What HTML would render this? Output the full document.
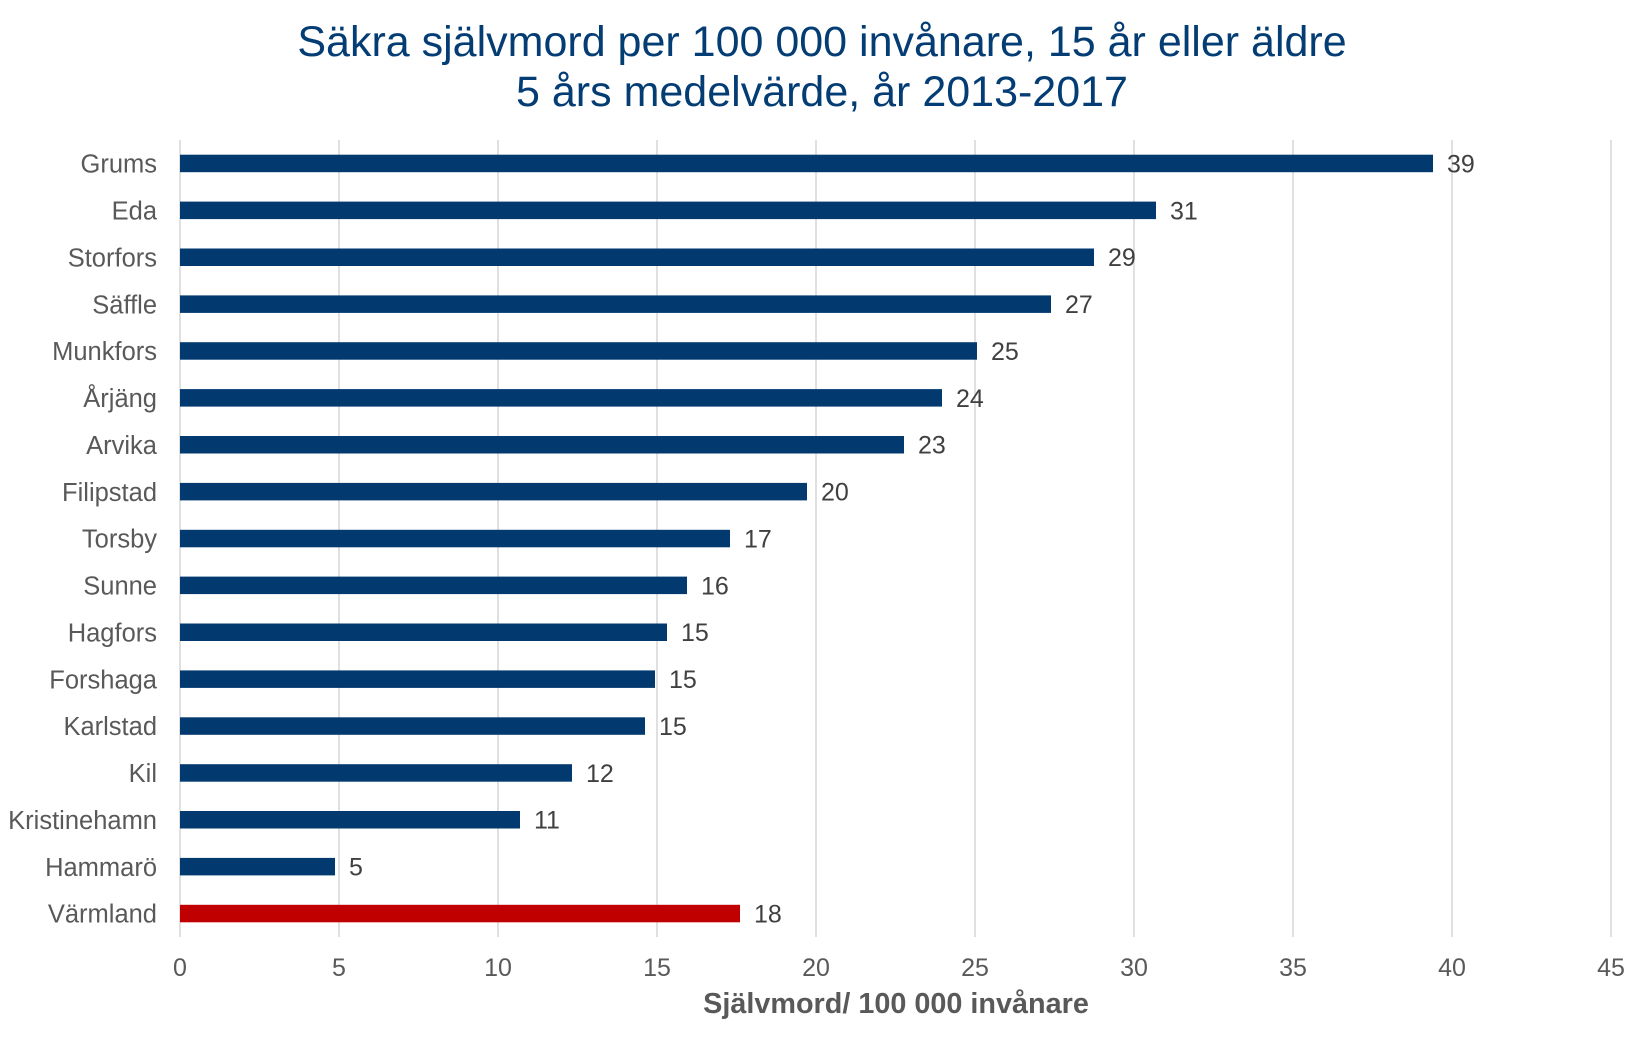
<!DOCTYPE html>
<html>
<head>
<meta charset="utf-8">
<style>
  html, body { margin:0; padding:0; background:#ffffff; }
  svg { display:block; }
  text { font-family: "Liberation Sans", Arial, sans-serif; }
</style>
</head>
<body>
<svg width="1645" height="1062" viewBox="0 0 1645 1062" xmlns="http://www.w3.org/2000/svg">
  <rect x="0" y="0" width="1645" height="1062" fill="#ffffff"/>

  <!-- Title -->
  <text x="822" y="56" text-anchor="middle" font-size="43" fill="#043D74">Säkra självmord per 100 000 invånare, 15 år eller äldre</text>
  <text x="822" y="106" text-anchor="middle" font-size="43" fill="#043D74">5 års medelvärde, år 2013-2017</text>

  <!-- Gridlines -->
  <g stroke="#D9D9D9" stroke-width="1.6">
    <line x1="180" y1="140" x2="180" y2="937"/>
    <line x1="339" y1="140" x2="339" y2="937"/>
    <line x1="498" y1="140" x2="498" y2="937"/>
    <line x1="657" y1="140" x2="657" y2="937"/>
    <line x1="816" y1="140" x2="816" y2="937"/>
    <line x1="975" y1="140" x2="975" y2="937"/>
    <line x1="1134" y1="140" x2="1134" y2="937"/>
    <line x1="1293" y1="140" x2="1293" y2="937"/>
    <line x1="1452" y1="140" x2="1452" y2="937"/>
    <line x1="1611" y1="140" x2="1611" y2="937"/>
  </g>

  <!-- Bars -->
  <g fill="#023A70">
    <rect x="180" y="154.7" width="1253" height="17.5"/>
    <rect x="180" y="201.6" width="976" height="17.5"/>
    <rect x="180" y="248.5" width="914" height="17.5"/>
    <rect x="180" y="295.4" width="871" height="17.5"/>
    <rect x="180" y="342.2" width="797" height="17.5"/>
    <rect x="180" y="389.1" width="762" height="17.5"/>
    <rect x="180" y="436.0" width="724" height="17.5"/>
    <rect x="180" y="482.9" width="627" height="17.5"/>
    <rect x="180" y="529.8" width="550" height="17.5"/>
    <rect x="180" y="576.6" width="507" height="17.5"/>
    <rect x="180" y="623.5" width="487" height="17.5"/>
    <rect x="180" y="670.4" width="475" height="17.5"/>
    <rect x="180" y="717.3" width="465" height="17.5"/>
    <rect x="180" y="764.2" width="392" height="17.5"/>
    <rect x="180" y="811.0" width="340" height="17.5"/>
    <rect x="180" y="857.9" width="155" height="17.5"/>
  </g>
  <rect x="180" y="904.8" width="560" height="17.5" fill="#C00000"/>

  <!-- Category labels -->
  <g font-size="25.5" fill="#595959" text-anchor="end">
    <text x="157" y="172.6">Grums</text>
    <text x="157" y="219.5">Eda</text>
    <text x="157" y="266.4">Storfors</text>
    <text x="157" y="313.3">Säffle</text>
    <text x="157" y="360.1">Munkfors</text>
    <text x="157" y="407.0">Årjäng</text>
    <text x="157" y="453.9">Arvika</text>
    <text x="157" y="500.8">Filipstad</text>
    <text x="157" y="547.7">Torsby</text>
    <text x="157" y="594.5">Sunne</text>
    <text x="157" y="641.4">Hagfors</text>
    <text x="157" y="688.3">Forshaga</text>
    <text x="157" y="735.2">Karlstad</text>
    <text x="157" y="782.1">Kil</text>
    <text x="157" y="828.9">Kristinehamn</text>
    <text x="157" y="875.8">Hammarö</text>
    <text x="157" y="922.7">Värmland</text>
  </g>

  <!-- Value labels -->
  <g font-size="25" fill="#404040">
    <text x="1447" y="172.4">39</text>
    <text x="1170" y="219.3">31</text>
    <text x="1108" y="266.2">29</text>
    <text x="1065" y="313.1">27</text>
    <text x="991" y="359.9">25</text>
    <text x="956" y="406.8">24</text>
    <text x="918" y="453.7">23</text>
    <text x="821" y="500.6">20</text>
    <text x="744" y="547.5">17</text>
    <text x="701" y="594.3">16</text>
    <text x="681" y="641.2">15</text>
    <text x="669" y="688.1">15</text>
    <text x="659" y="735.0">15</text>
    <text x="586" y="781.9">12</text>
    <text x="534" y="828.7">11</text>
    <text x="349" y="875.6">5</text>
    <text x="754" y="922.5">18</text>
  </g>

  <!-- X tick labels -->
  <g font-size="25" fill="#595959" text-anchor="middle">
    <text x="180" y="976">0</text>
    <text x="339" y="976">5</text>
    <text x="498" y="976">10</text>
    <text x="657" y="976">15</text>
    <text x="816" y="976">20</text>
    <text x="975" y="976">25</text>
    <text x="1134" y="976">30</text>
    <text x="1293" y="976">35</text>
    <text x="1452" y="976">40</text>
    <text x="1611" y="976">45</text>
  </g>

  <!-- Axis title -->
  <text x="896" y="1013" text-anchor="middle" font-size="28.8" font-weight="bold" fill="#595959">Självmord/ 100 000 invånare</text>
</svg>
</body>
</html>
